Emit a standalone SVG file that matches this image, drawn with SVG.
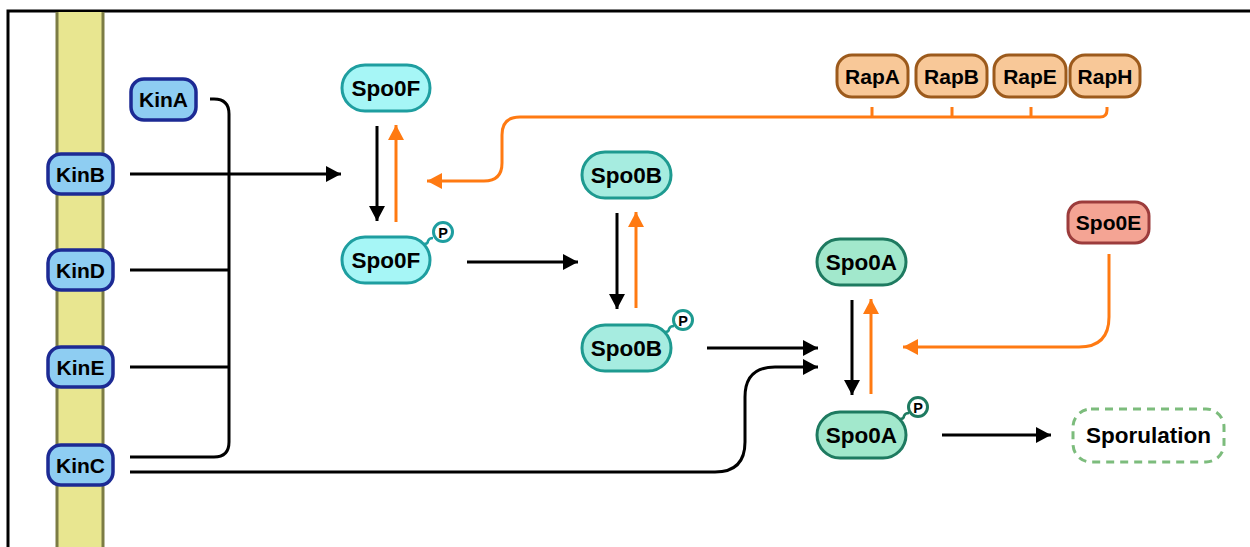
<svg xmlns="http://www.w3.org/2000/svg" width="1250" height="547" viewBox="0 0 1250 547">
<defs>
<marker id="ab" markerUnits="userSpaceOnUse" markerWidth="18" markerHeight="18" refX="15" refY="8" orient="auto"><path d="M0,0 L15,8 L0,16 z" fill="#000"/></marker>
<marker id="ao" markerUnits="userSpaceOnUse" markerWidth="18" markerHeight="18" refX="15" refY="8" orient="auto"><path d="M0,0 L15,8 L0,16 z" fill="#ff7a12"/></marker>
<style>
.t{font-family:"Liberation Sans",Arial,sans-serif;font-weight:bold;fill:#000;text-anchor:middle}
.kin rect{fill:#8ecdf2;stroke:#1c2a94;stroke-width:3.5}
.f rect{fill:#a6f6f6;stroke:#1e9ea0;stroke-width:3}
.b rect{fill:#a6ece0;stroke:#1e9a90;stroke-width:3}
.a rect{fill:#a2e8cc;stroke:#1e7a60;stroke-width:3}
.rap rect{fill:#f8c898;stroke:#9c5a1c;stroke-width:3}
.e rect{fill:#f4a494;stroke:#9c3c3c;stroke-width:3}
.pc{fill:#fff;stroke-width:3}
.bl{fill:none;stroke:#000;stroke-width:3}
.or{fill:none;stroke:#ff7a12;stroke-width:3}
</style>
</defs>
<rect x="0" y="0" width="1250" height="547" fill="#fff"/>
<!-- frame -->
<path d="M8,560 V11 H1260" fill="none" stroke="#000" stroke-width="3"/>
<!-- membrane -->
<rect x="57" y="12" width="46" height="540" fill="#e8e690"/>
<path d="M57,12 V547 M103,12 V547" stroke="#7c7c44" stroke-width="3"/>

<g id="connectors">
<path class="bl" d="M130,174 H341" marker-end="url(#ab)"/>
<path class="bl" d="M210,99 H214 Q229,99 229,114 V442 Q229,457 214,457 H130"/>
<path class="bl" d="M130,270 H229"/>
<path class="bl" d="M130,367 H229"/>
<path class="bl" d="M130,472 H715 Q745,472 745,442 V397 Q745,367 775,367 H818" marker-end="url(#ab)"/>
<path class="bl" d="M707,348 H818" marker-end="url(#ab)"/>
<path class="bl" d="M467,262 H578" marker-end="url(#ab)"/>
<path class="bl" d="M377,126 V221" marker-end="url(#ab)"/>
<path class="or" d="M396,222 V125" marker-end="url(#ao)"/>
<path class="bl" d="M617,213 V309" marker-end="url(#ab)"/>
<path class="or" d="M636,308 V212" marker-end="url(#ao)"/>
<path class="bl" d="M852,300 V395" marker-end="url(#ab)"/>
<path class="or" d="M871,394 V299" marker-end="url(#ao)"/>
<path class="bl" d="M942,435 H1051" marker-end="url(#ab)"/>
<path class="or" d="M1107,107 V110 Q1107,117 1100,117 H520 Q502,117 502,135 V163 Q502,181 484,181 H427" marker-end="url(#ao)"/>
<path class="or" d="M872,107 V117 M952,107 V117 M1031,107 V117"/>
<path class="or" d="M1109,254 V317 Q1109,347 1079,347 H903" marker-end="url(#ao)"/>
</g>

<g id="KinA" class="kin"><rect x="131" y="79" width="65" height="41" rx="13"/><text class="t" x="163.5" y="107" font-size="21">KinA</text></g>
<g id="KinB" class="kin"><rect x="48" y="154" width="65" height="40" rx="13"/><text class="t" x="80.5" y="182" font-size="21">KinB</text></g>
<g id="KinD" class="kin"><rect x="48" y="250" width="65" height="40" rx="13"/><text class="t" x="80.5" y="278" font-size="21">KinD</text></g>
<g id="KinE" class="kin"><rect x="48" y="347" width="65" height="40" rx="13"/><text class="t" x="80.5" y="375" font-size="21">KinE</text></g>
<g id="KinC" class="kin"><rect x="48" y="445" width="65" height="40" rx="13"/><text class="t" x="80.5" y="473" font-size="21">KinC</text></g>

<g id="Spo0F" class="f"><rect x="342" y="65" width="88" height="46" rx="23"/><text class="t" x="386" y="96" font-size="22.5">Spo0F</text></g>
<g id="Spo0F-P" class="f"><path d="M424,244 q4,0 4,-3 q1,-3 5,-3" fill="none" stroke="#1e9ea0" stroke-width="2.5"/><rect x="342" y="237" width="88" height="46" rx="23"/><circle class="pc" cx="443" cy="232" r="9.5" stroke="#1e9ea0"/><text class="t" x="443" y="237.5" font-size="14.5">P</text><text class="t" x="386" y="268" font-size="22.5">Spo0F</text></g>

<g id="Spo0B" class="b"><rect x="582" y="152" width="89" height="46" rx="23"/><text class="t" x="626.5" y="183" font-size="22.5">Spo0B</text></g>
<g id="Spo0B-P" class="b"><path d="M665,332 q4,0 4,-3 q1,-3 5,-3" fill="none" stroke="#1e9a90" stroke-width="2.5"/><rect x="582" y="325" width="89" height="46" rx="23"/><circle class="pc" cx="683" cy="320" r="9.5" stroke="#1e9a90"/><text class="t" x="683" y="325.5" font-size="14.5">P</text><text class="t" x="626.5" y="356" font-size="22.5">Spo0B</text></g>

<g id="Spo0A" class="a"><rect x="817" y="239" width="89" height="46" rx="23"/><text class="t" x="861.5" y="270" font-size="22.5">Spo0A</text></g>
<g id="Spo0A-P" class="a"><path d="M900,419 q4,0 4,-3 q1,-3 5,-3" fill="none" stroke="#1e7a60" stroke-width="2.5"/><rect x="817" y="412" width="89" height="46" rx="23"/><circle class="pc" cx="918" cy="407" r="9.5" stroke="#1e7a60"/><text class="t" x="918" y="412.5" font-size="14.5">P</text><text class="t" x="861.5" y="443" font-size="22.5">Spo0A</text></g>

<g id="RapA" class="rap"><rect x="837" y="55" width="71" height="42" rx="15"/><text class="t" x="872.5" y="83.5" font-size="21">RapA</text></g>
<g id="RapB" class="rap"><rect x="916" y="55" width="71" height="42" rx="15"/><text class="t" x="951.5" y="83.5" font-size="21">RapB</text></g>
<g id="RapE" class="rap"><rect x="994" y="55" width="72" height="42" rx="15"/><text class="t" x="1030" y="83.5" font-size="21">RapE</text></g>
<g id="RapH" class="rap"><rect x="1070" y="55" width="70" height="42" rx="15"/><text class="t" x="1105" y="83.5" font-size="21">RapH</text></g>

<g id="Spo0E" class="e"><rect x="1068" y="202" width="81" height="41" rx="14"/><text class="t" x="1108.5" y="230" font-size="21">Spo0E</text></g>

<g id="Sporulation"><rect x="1073" y="409" width="151" height="53" rx="18" fill="#fff" stroke="#7cbc7c" stroke-width="3" stroke-dasharray="8,6"/><text class="t" x="1148.5" y="443" font-size="22.5">Sporulation</text></g>
</svg>
